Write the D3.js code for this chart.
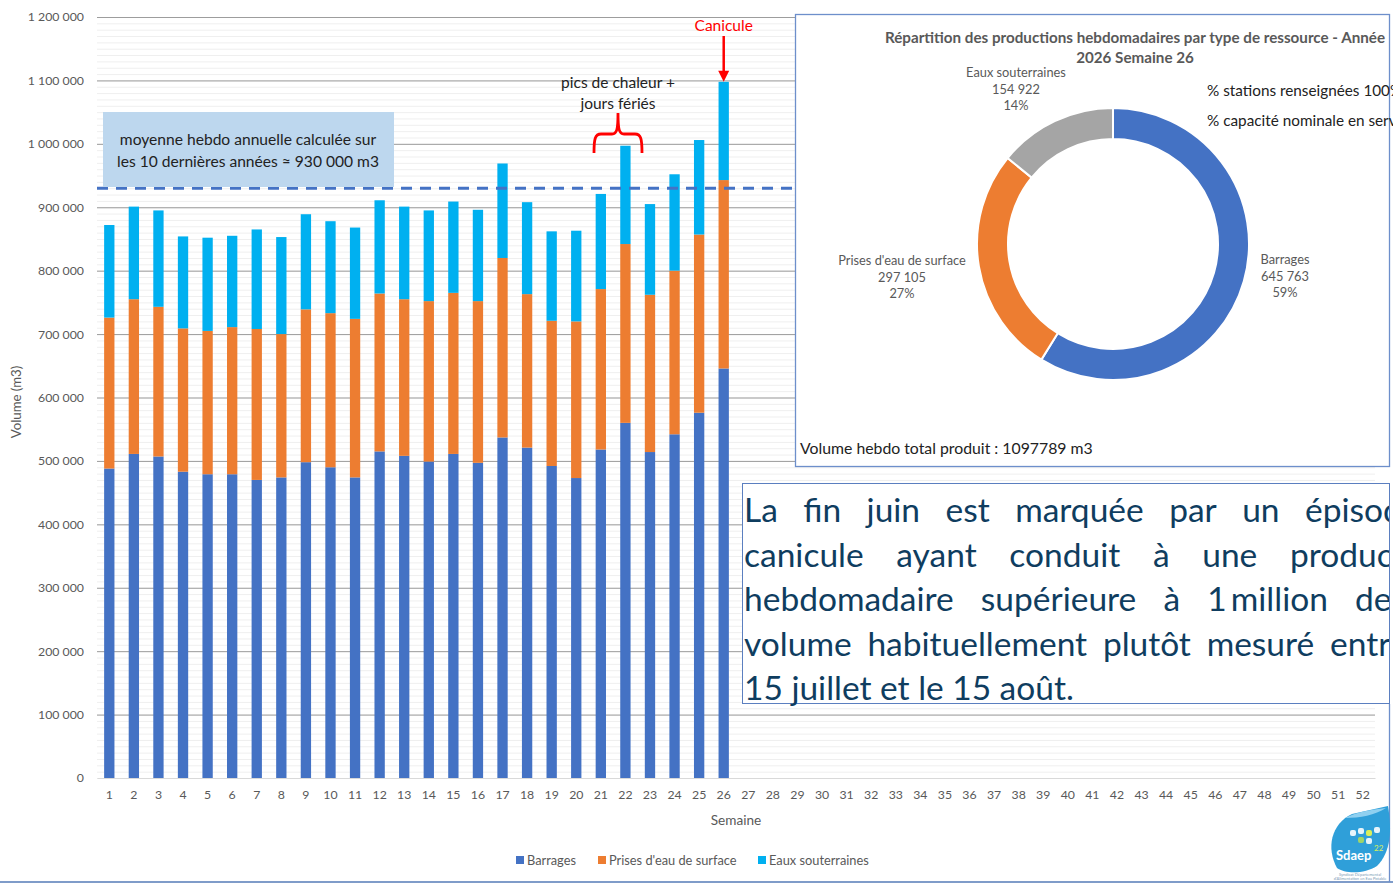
<!DOCTYPE html>
<html>
<head>
<meta charset="utf-8">
<style>
    body { margin: 0; background: #fff; }
    svg { display: block; font-family: Lato, "Open Sans", sans-serif; }
    .tick text { fill: #595959; font-size: 12.3px; font-family: Lato, "Open Sans", sans-serif; }
</style>
</head>
<body>
<svg width="1393" height="885"></svg>
<script src="https://d3js.org/d3.v7.min.js"></script>
<script>

// Data
var weeks = d3.range(1, 53);
var barrages = [488000, 511000, 507000, 483000, 479000, 479000, 470000, 474000, 498000, 490000,
                474000, 515000, 508000, 499000, 511000, 497000, 537000, 521000, 492000, 473000,
                518000, 560000, 514000, 542000, 576000, 645763];
var prises   = [238000, 244000, 236000, 226000, 226000, 232000, 238000, 226000, 241000, 243000,
                250000, 249000, 247000, 253000, 254000, 255000, 283000, 242000, 229000, 247000,
                253000, 282000, 248000, 258000, 281000, 297105];
var eaux     = [146000, 146000, 152000, 145000, 147000, 144000, 157000, 153000, 150000, 145000,
                144000, 147000, 146000, 143000, 144000, 144000, 149000, 145000, 141000, 143000,
                150000, 155000, 143000, 152000, 149000, 154922];
var seriesNames = ["Barrages", "Prises d'eau de surface", "Eaux souterraines"];
var seriesColors = ["#4472c4", "#ed7d31", "#00b0f0"];
var yTicks = [0, 100000, 200000, 300000, 400000, 500000, 600000, 700000, 800000, 900000, 1000000, 1100000, 1200000];
var moyenne = 930000;

var donutNames = ["Barrages", "Prises d'eau de surface", "Eaux souterraines"];
var donutValues = [645763, 297105, 154922];
var donutColors = ["#4472c4", "#ed7d31", "#a5a5a5"];
var totalProduit = 1097789;

var commentLines = [
    "La fin juin est marquée par un épisode de",
    "canicule ayant conduit à une production",
    "hebdomadaire supérieure à 1\u2009million de m3,",
    "volume habituellement plutôt mesuré entre le",
    "15 juillet et le 15 août."
];

var svg = d3.select("svg");
var fmt = function (v) { return d3.format(",")(v).replace(/,/g, " "); };

// Scales
var x = d3.scaleBand()
    .domain(weeks)
    .range([97, 1375])
    .paddingInner(0.58)
    .paddingOuter(0.29);

var y = d3.scaleLinear()
    .domain([0, 1200000])
    .range([778, 17]);

// minor gridlines
svg.append("g").selectAll("line")
    .data(y.ticks(120))
    .enter().append("line")
    .attr("x1", 97).attr("x2", 1375)
    .attr("y1", function (d) { return y(d) + 0.5; })
    .attr("y2", function (d) { return y(d) + 0.5; })
    .attr("stroke", "#efefef")
    .attr("stroke-width", 1);

// major gridlines
svg.append("g").selectAll("line")
    .data(yTicks.slice(1))
    .enter().append("line")
    .attr("x1", 97).attr("x2", 1375)
    .attr("y1", function (d) { return y(d) + 0.5; })
    .attr("y2", function (d) { return y(d) + 0.5; })
    .attr("stroke", "#9d9d9d")
    .attr("stroke-width", 1);

// axes
svg.append("g")
    .attr("transform", "translate(97,0)")
    .call(d3.axisLeft(y).tickValues(yTicks).tickSize(0).tickPadding(13).tickFormat(fmt))
    .call(function (g) { g.select(".domain").remove(); });

svg.append("g")
    .attr("transform", "translate(0,778)")
    .call(d3.axisBottom(x).tickSize(0).tickPadding(12))
    .call(function (g) { g.select(".domain").attr("stroke", "#d9d9d9"); });

svg.append("text")
    .attr("x", 736).attr("y", 825)
    .attr("text-anchor", "middle")
    .style("font-size", "13.6px").style("fill", "#595959")
    .text("Semaine");

svg.append("text")
    .attr("transform", "translate(21,402) rotate(-90)")
    .attr("text-anchor", "middle")
    .style("font-size", "13.2px").style("fill", "#595959")
    .text("Volume (m3)");

// stacked bars
var table = barrages.map(function (b, i) {
    var row = { week: weeks[i] };
    row[seriesNames[0]] = b;
    row[seriesNames[1]] = prises[i];
    row[seriesNames[2]] = eaux[i];
    return row;
});
var stacked = d3.stack().keys(seriesNames)(table);

svg.append("g").selectAll("g")
    .data(stacked)
    .enter().append("g")
    .attr("fill", function (d, i) { return seriesColors[i]; })
    .selectAll("rect")
    .data(function (d) { return d; })
    .enter().append("rect")
    .attr("x", function (d) { return x(d.data.week); })
    .attr("y", function (d) { return y(d[1]); })
    .attr("width", x.bandwidth())
    .attr("height", function (d) { return y(d[0]) - y(d[1]); });

// legend
var legend = svg.append("g").attr("transform", "translate(0,865)");
var legendX = [516, 598, 758];
seriesNames.forEach(function (n, i) {
    legend.append("rect").attr("x", legendX[i]).attr("y", -9).attr("width", 8).attr("height", 8).attr("fill", seriesColors[i]);
    legend.append("text").attr("x", legendX[i] + 11).attr("y", 0)
        .style("font-size", "12.8px").style("fill", "#595959").text(n);
});

// moyenne annotation
svg.append("line")
    .attr("x1", 97).attr("x2", 1375)
    .attr("y1", y(moyenne)).attr("y2", y(moyenne))
    .attr("stroke", "#4472c4")
    .attr("stroke-width", 3)
    .attr("stroke-dasharray", "11,8");

svg.append("rect")
    .attr("x", 103).attr("y", 112).attr("width", 291).attr("height", 75)
    .attr("fill", "#bdd7ee");
svg.append("text")
    .attr("x", 248).attr("y", 145)
    .attr("text-anchor", "middle")
    .style("font-size", "15.6px").style("fill", "#222")
    .text("moyenne hebdo annuelle calculée sur");
svg.append("text")
    .attr("x", 248).attr("y", 167)
    .attr("text-anchor", "middle")
    .style("font-size", "15.6px").style("fill", "#222")
    .text("les 10 dernières années \u2248  930 000 m3");

// pics de chaleur annotation
var bx = 618;
svg.append("text").attr("x", bx).attr("y", 88).attr("text-anchor", "middle")
    .style("font-size", "15.5px").style("fill", "#222").text("pics de chaleur +");
svg.append("text").attr("x", bx).attr("y", 109).attr("text-anchor", "middle")
    .style("font-size", "15.5px").style("fill", "#222").text("jours fériés");
svg.append("path")
    .attr("d", "M" + (bx - 24) + ",153 C" + (bx - 24) + ",139 " + (bx - 23) + ",134 " + (bx - 17) + ",134" +
               " L" + (bx - 6) + ",134 C" + (bx - 1) + ",134 " + bx + ",129 " + bx + ",113" +
               " M" + bx + ",113 C" + bx + ",129 " + (bx + 1) + ",134 " + (bx + 6) + ",134" +
               " L" + (bx + 17) + ",134 C" + (bx + 23) + ",134 " + (bx + 24) + ",139 " + (bx + 24) + ",153")
    .attr("fill", "none")
    .attr("stroke", "#ff0000")
    .attr("stroke-width", 2.8);

// Canicule annotation
var cx26 = x(26) + x.bandwidth() / 2;
var top26 = y(barrages[25] + prises[25] + eaux[25]);
svg.append("text").attr("x", cx26).attr("y", 31).attr("text-anchor", "middle")
    .style("font-size", "15.5px").style("fill", "#ff0000").text("Canicule");
svg.append("line")
    .attr("x1", cx26).attr("x2", cx26).attr("y1", 36).attr("y2", top26 - 8)
    .attr("stroke", "#ff0000").attr("stroke-width", 2.5);
svg.append("path")
    .attr("d", "M" + (cx26 - 5.5) + "," + (top26 - 11) + " L" + (cx26 + 5.5) + "," + (top26 - 11) + " L" + cx26 + "," + top26 + " Z")
    .attr("fill", "#ff0000");

// Donut panel
var panel = svg.append("g");
panel.append("rect")
    .attr("x", 795.5).attr("y", 14.5).attr("width", 594).attr("height", 452)
    .attr("fill", "#fff").attr("stroke", "#6d8fcb").attr("stroke-width", 1.3);

panel.append("text").attr("x", 1135).attr("y", 43).attr("text-anchor", "middle")
    .style("font-size", "15.2px").style("font-weight", "bold").style("fill", "#595959")
    .text("Répartition des productions hebdomadaires par type de ressource - Année");
panel.append("text").attr("x", 1135).attr("y", 63).attr("text-anchor", "middle")
    .style("font-size", "15.2px").style("font-weight", "bold").style("fill", "#595959")
    .text("2026 Semaine 26");

var pie = d3.pie().sort(null).value(function (d) { return d; });
var arc = d3.arc().innerRadius(105).outerRadius(136);
var arcs = pie(donutValues);
var donut = panel.append("g").attr("transform", "translate(1113,244)");
donut.selectAll("path")
    .data(arcs)
    .enter().append("path")
    .attr("d", arc)
    .attr("fill", function (d, i) { return donutColors[i]; })
    .attr("stroke", "#fff")
    .attr("stroke-width", 2);

var donutTotal = d3.sum(donutValues);
var labelPos = [[1285, 264], [902, 265], [1016, 77]];
arcs.forEach(function (a, i) {
    var t = panel.append("text")
        .attr("text-anchor", "middle")
        .style("font-size", "12.8px").style("fill", "#595959");
    var lines = [donutNames[i], fmt(a.data), Math.round(100 * a.data / donutTotal) + "%"];
    lines.forEach(function (l, k) {
        t.append("tspan").attr("x", labelPos[i][0]).attr("y", labelPos[i][1] + k * 16.5).text(l);
    });
});

panel.append("text").attr("x", 1207).attr("y", 96)
    .style("font-size", "15.3px").style("fill", "#222").text("% stations renseignées 100%");
panel.append("text").attr("x", 1207).attr("y", 126)
    .style("font-size", "15.3px").style("fill", "#222").text("% capacité nominale en service");
panel.append("text").attr("x", 800).attr("y", 454)
    .style("font-size", "15.8px").style("fill", "#222").text("Volume hebdo total produit : " + totalProduit + " m3");

// Commentary text box
var box = svg.append("g");
box.append("clipPath").attr("id", "boxclip")
    .append("rect").attr("x", 742).attr("y", 483).attr("width", 647).attr("height", 240);
box.append("rect")
    .attr("x", 742.5).attr("y", 483.5).attr("width", 647).attr("height", 220)
    .attr("fill", "#fff").attr("stroke", "#5b7fc0").attr("stroke-width", 1);

var anchors = [[7, 1305], [5, 1290], [4, 1355], [4, 1330], null];
var textG = box.append("g").attr("clip-path", "url(#boxclip)");
commentLines.forEach(function (line, li) {
    var words = line.split(" ");
    var baseY = 522 + li * 44.5;
    var nodes = words.map(function (w) {
        return textG.append("text")
            .attr("y", baseY)
            .style("font-size", "33.5px").style("fill", "#0f3d5f")
            .text(w);
    });
    var widths = nodes.map(function (n) { return n.node().getComputedTextLength(); });
    var gap = 8.5;
    if (anchors[li]) {
        var k = anchors[li][0];
        gap = (anchors[li][1] - 744 - d3.sum(widths.slice(0, k))) / k;
    }
    var xPos = 744;
    nodes.forEach(function (n, i) {
        n.attr("x", xPos);
        xPos += widths[i] + gap;
    });
});

// outer frame
svg.append("line").attr("x1", 0).attr("x2", 1393).attr("y1", 882).attr("y2", 882)
    .attr("stroke", "#7f9cc9").attr("stroke-width", 2);
svg.append("line").attr("x1", 1389.5).attr("x2", 1389.5).attr("y1", 704).attr("y2", 882)
    .attr("stroke", "#6d8fcb").attr("stroke-width", 1.3);

// logo
var logo = svg.append("g");
logo.append("path")
    .attr("d", "M1337,868 C1326,848 1331,824 1352,814 L1388,806 C1392,830 1391,852 1377,866 C1365,874 1345,874 1337,868 Z")
    .attr("fill", "#2f9fd9");
logo.append("path")
    .attr("d", "M1345,818 C1356,812 1370,810 1386,808 C1375,815 1360,818 1345,818 Z")
    .attr("fill", "#8fd0f0");
[[1350, 830, "#e6f4fb"], [1358, 828, "#e6f4fb"], [1366, 830, "#d9ef5a"], [1374, 827, "#e6f4fb"], [1358, 837, "#9fd56a"], [1366, 838, "#e6f4fb"]]
    .forEach(function (p) {
        logo.append("rect").attr("x", p[0]).attr("y", p[1]).attr("width", 6).attr("height", 6).attr("rx", 2).attr("fill", p[2]);
    });
logo.append("text").attr("x", 1336).attr("y", 860)
    .style("font-size", "13px").style("font-weight", "bold").style("fill", "#fff").text("Sdaep");
logo.append("text").attr("x", 1374).attr("y", 851)
    .style("font-size", "8px").style("fill", "#d9ef5a").text("22");
logo.append("text").attr("x", 1360).attr("y", 876).attr("text-anchor", "middle")
    .style("font-size", "4px").style("fill", "#7b9bb5").text("Syndicat Départemental");
logo.append("text").attr("x", 1360).attr("y", 880).attr("text-anchor", "middle")
    .style("font-size", "4px").style("fill", "#7b9bb5").text("d'Alimentation en Eau Potable");

</script>
</body>
</html>
